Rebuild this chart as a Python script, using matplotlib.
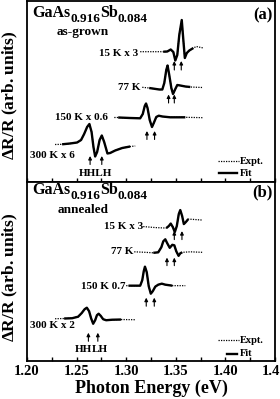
import numpy as np
import matplotlib.pyplot as plt

## Fonts: bold Times-like everywhere, also inside mathtext ##
plt.rcParams['font.family'] = 'Liberation Serif'
plt.rcParams['font.weight'] = 'bold'
plt.rcParams['axes.labelweight'] = 'bold'
plt.rcParams['mathtext.fontset'] = 'custom'
plt.rcParams['mathtext.rm'] = 'Liberation Serif:bold'
plt.rcParams['mathtext.it'] = 'Liberation Serif:bold'
plt.rcParams['mathtext.bf'] = 'Liberation Serif:bold'
plt.rcParams['mathtext.default'] = 'rm'

## Data (energy in eV, dR/R in arb. units incl. offset) ##

# (a) as-grown
E_15K_a = [1.3141, 1.3374, 1.3414, 1.3449, 1.3475, 1.3495, 1.3515, 1.3535,
           1.3560, 1.3576, 1.3591, 1.3611, 1.3636, 1.3677, 1.3707, 1.3778]
R_15K_a = [13.03, 13.03, 13.05, 13.25, 13.0, 12.15, 12.7, 14.7,
           16.2, 14.2, 12.4, 12.9, 13.15, 13.4, 13.55, 13.4]
FIT_15K_a = (1.3374, 1.3677)

E_77K_a = [1.3162, 1.3232, 1.3333, 1.3364, 1.3384, 1.3404, 1.3417, 1.3434,
           1.3455, 1.3472, 1.3495, 1.3515, 1.3545, 1.3596, 1.3646, 1.3768]
R_77K_a = [9.47, 9.4, 9.25, 9.25, 9.9, 11.2, 11.65, 10.7,
           9.4, 8.8, 9.3, 9.7, 9.65, 9.55, 9.5, 9.45]
FIT_77K_a = (1.3172, 1.3646)

E_150K_a = [1.2880, 1.2919, 1.3040, 1.3141, 1.3167, 1.3187, 1.3200, 1.3215,
            1.3237, 1.3260, 1.3278, 1.3303, 1.3328, 1.3364, 1.3444, 1.3596, 1.3778]
R_150K_a = [6.45, 6.45, 6.4, 6.37, 6.8, 7.6, 7.85, 7.4,
            6.2, 5.5, 5.9, 6.5, 6.63, 6.55, 6.47, 6.47, 6.43]
FIT_150K_a = (1.2919, 1.3596)

E_300K_a = [1.2283, 1.2354, 1.2434, 1.2505, 1.2545, 1.2576, 1.2606, 1.2629,
            1.2651, 1.2670, 1.2687, 1.2707, 1.2732, 1.2754, 1.2778, 1.2811,
            1.2838, 1.2889, 1.2960, 1.3040, 1.3091]
R_300K_a = [3.75, 3.77, 3.85, 3.95, 4.2, 4.8, 5.5, 5.8,
            5.0, 3.5, 2.55, 3.0, 4.2, 4.65, 4.0, 2.85,
            2.9, 3.15, 3.4, 3.55, 3.6]
FIT_300K_a = (1.2354, 1.3040)

# (b) annealed
E_15K_b = [1.3172, 1.3293, 1.3404, 1.3429, 1.3449, 1.3470, 1.3490, 1.3510,
           1.3530, 1.3545, 1.3564, 1.3581, 1.3601, 1.3626, 1.3697, 1.3768]
R_15K_b = [13.42, 13.32, 13.27, 13.47, 13.72, 13.37, 12.87, 13.47,
           14.67, 15.07, 14.47, 13.67, 13.87, 14.17, 14.12, 14.07]
FIT_15K_b = (1.3404, 1.3626)

E_77K_b = [1.3081, 1.3192, 1.3273, 1.3323, 1.3354, 1.3374, 1.3394, 1.3414,
           1.3439, 1.3465, 1.3485, 1.3505, 1.3528, 1.3545, 1.3565, 1.3646, 1.3768]
R_77K_b = [10.9, 10.85, 10.8, 10.85, 11.35, 11.95, 12.15, 11.75,
           11.3, 11.6, 11.55, 10.95, 10.5, 10.75, 10.85, 10.9, 10.85]
FIT_77K_b = (1.3273, 1.3565)

E_150K_b = [1.3000, 1.3023, 1.3090, 1.3141, 1.3162, 1.3177, 1.3189, 1.3207,
            1.3227, 1.3248, 1.3268, 1.3293, 1.3323, 1.3359, 1.3394, 1.3465, 1.3596]
R_150K_b = [7.52, 7.52, 7.52, 7.52, 8.07, 8.97, 9.42, 8.87,
            7.47, 6.72, 6.97, 7.42, 7.62, 7.72, 7.62, 7.52, 7.52]
FIT_150K_b = (1.3023, 1.3465)

E_300K_b = [1.2283, 1.2374, 1.2455, 1.2515, 1.2550, 1.2581, 1.2603, 1.2626,
            1.2646, 1.2667, 1.2687, 1.2705, 1.2722, 1.2742, 1.2768, 1.2798,
            1.2859, 1.2949, 1.3091]
R_300K_b = [4.22, 4.24, 4.27, 4.42, 4.77, 5.17, 5.32, 4.97,
            4.27, 3.72, 4.07, 4.57, 4.72, 4.52, 4.17, 4.07,
            4.12, 4.14, 4.12]
FIT_300K_b = (1.2374, 1.2949)

# curve labels: text, right end energy, level
LABELS_a = [('15 K x 3', 1.3121, 12.9), ('77 K', 1.3141, 9.4),
            ('150 K x 0.6', 1.2818, 6.4), ('300 K x 6', 1.2485, 2.7)]
LABELS_b = [('15 K x 3', 1.3172, 13.4), ('77 K', 1.3071, 10.9),
            ('150 K 0.7', 1.2990, 7.4), ('300 K x 2', 1.2485, 3.57)]

# HH / LH transition arrows: energies, tail level, head level
ARROWS_a = [((1.3485, 1.3555), 11.2, 12.1), ((1.3427, 1.3485), 7.9, 8.75),
            ((1.3209, 1.3286), 4.25, 5.1), ((1.2636, 1.2754), 1.75, 2.6)]
ARROWS_b = [((1.3485, 1.3562), 12.12, 12.97), ((1.3411, 1.3485), 9.52, 10.32),
            ((1.3202, 1.3283), 5.47, 6.32), ((1.2619, 1.2714), 1.97, 2.82)]


def draw_spectrum(ax, E, R, fit):
    E = np.array(E)
    R = np.array(R)
    ax.plot(E, R, color='k', ls=(0, (1, 1)), lw=0.9)
    m = (E >= fit[0]) & (E <= fit[1])
    ax.plot(E[m], R[m], color='k', lw=1.7, solid_capstyle='butt')


def draw_arrows(ax, arrows):
    for (e1, e2), lo, hi in arrows:
        for e in (e1, e2):
            ax.annotate('', xy=(e, hi), xytext=(e, lo),
                        arrowprops=dict(arrowstyle='-|>', color='k', lw=0.8,
                                        mutation_scale=5, shrinkA=0, shrinkB=0))


def chem_label(ax, x, y):
    # GaAs_0.916 Sb_0.084 with big subscripts, built piece by piece
    t1 = ax.text(x, y, 'GaAs', transform=ax.transAxes, fontsize=11.5,
                 ha='left', va='center')
    t2 = ax.annotate('0.916', xy=(1, 0.1), xycoords=t1, fontsize=9.5,
                     ha='left', va='center')
    t3 = ax.annotate('Sb', xy=(1, 0), xycoords=(t2, t1), fontsize=11.5,
                     ha='left', va='bottom')
    ax.annotate('0.084', xy=(1, 0.5), xycoords=(t3, t2), fontsize=9.5,
                ha='left', va='center')


def style_axes(ax, ymax):
    ax.set_xlim(1.20, 1.45)
    ax.set_ylim(0, ymax)
    ax.set_yticks([])
    ax.set_xticks(np.arange(1.20, 1.451, 0.05))
    ax.set_xticks(np.arange(1.20, 1.451, 0.025), minor=True)
    ax.tick_params(axis='x', which='both', direction='in', length=3,
                   width=1, labelsize=10.5, pad=3)
    for lbl in ax.get_xticklabels():
        lbl.set_fontweight('bold')
    for s in ax.spines.values():
        s.set_linewidth(1.3)


def draw_legend(ax, y_expt, y_fit, x0_fit):
    ax.plot([0.770, 0.855], [y_expt, y_expt], transform=ax.transAxes,
            color='k', ls=(0, (1, 1)), lw=0.9)
    ax.plot([x0_fit, 0.845], [y_fit, y_fit], transform=ax.transAxes,
            color='k', lw=1.7)
    ax.text(0.857, y_expt, 'Expt.', transform=ax.transAxes, fontsize=7.5,
            va='center', ha='left')
    ax.text(0.857, y_fit, 'Fit', transform=ax.transAxes, fontsize=7.5,
            va='center', ha='left')


fig = plt.figure(figsize=(2.8, 3.99), dpi=100)
ax1 = fig.add_axes([27 / 280, 1 - 182 / 399, 248 / 280, 181 / 399])
ax2 = fig.add_axes([27 / 280, 1 - 361 / 399, 248 / 280, 179 / 399])

## Panel (a) ##
style_axes(ax1, 18.1)
ax1.tick_params(axis='x', labelbottom=False)
draw_spectrum(ax1, E_15K_a, R_15K_a, FIT_15K_a)
draw_spectrum(ax1, E_77K_a, R_77K_a, FIT_77K_a)
draw_spectrum(ax1, E_150K_a, R_150K_a, FIT_150K_a)
draw_spectrum(ax1, E_300K_a, R_300K_a, FIT_300K_a)
draw_arrows(ax1, ARROWS_a)
for txt, e, r in LABELS_a:
    ax1.text(e, r, txt, fontsize=8, ha='right', va='center')
ax1.text(1.2687, 0.9, 'HHLH', fontsize=8, ha='center', va='center')
chem_label(ax1, 0.02, 0.935)
ax1.text(0.121, 0.829, 'as-grown', transform=ax1.transAxes, fontsize=9.5,
         ha='left', va='center')
ax1.text(0.99, 0.923, '(a)', transform=ax1.transAxes, fontsize=12,
         ha='right', va='center')
draw_legend(ax1, 0.116, 0.048, 0.774)

## Panel (b) ##
style_axes(ax2, 17.87)
draw_spectrum(ax2, E_15K_b, R_15K_b, FIT_15K_b)
draw_spectrum(ax2, E_77K_b, R_77K_b, FIT_77K_b)
draw_spectrum(ax2, E_150K_b, R_150K_b, FIT_150K_b)
draw_spectrum(ax2, E_300K_b, R_300K_b, FIT_300K_b)
draw_arrows(ax2, ARROWS_b)
for txt, e, r in LABELS_b:
    ax2.text(e, r, txt, fontsize=8, ha='right', va='center')
ax2.text(1.2569, 1.17, 'HH', fontsize=8, ha='center', va='center')
ax2.text(1.2737, 1.17, 'LH', fontsize=8, ha='center', va='center')
chem_label(ax2, 0.02, 0.955)
ax2.text(0.125, 0.843, 'annealed', transform=ax2.transAxes, fontsize=9.5,
         ha='left', va='center')
ax2.text(0.99, 0.944, '(b)', transform=ax2.transAxes, fontsize=12,
         ha='right', va='center')
draw_legend(ax2, 0.116, 0.041, 0.806)
ax2.set_xlabel('Photon Energy (eV)', fontsize=13, fontweight='bold',
               labelpad=1)

## y labels ##
fig.text(10 / 280, 1 - 95 / 399, r'$\Delta$R/R (arb. units)', rotation=90,
         fontsize=12.5, ha='center', va='center')
fig.text(10 / 280, 1 - 277 / 399, r'$\Delta$R/R (arb. units)', rotation=90,
         fontsize=12.5, ha='center', va='center')

plt.savefig('out.png', dpi=100)
